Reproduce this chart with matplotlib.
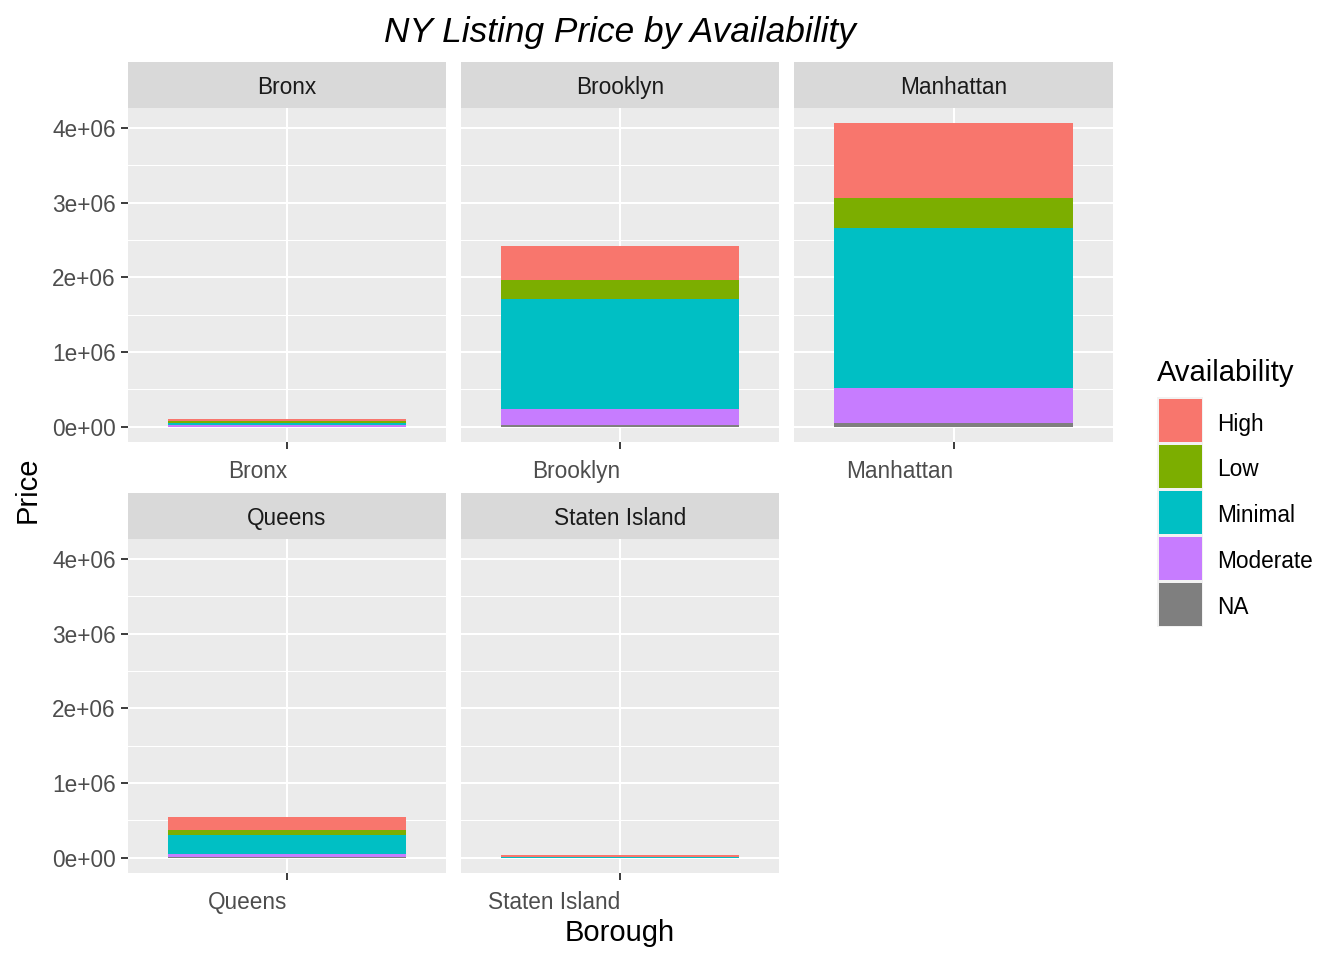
import matplotlib
matplotlib.use("Agg")
import matplotlib.pyplot as plt
from matplotlib.patches import Rectangle

plt.rcParams['font.family'] = ['Liberation Sans', 'DejaVu Sans']

# ---- data ----
boroughs = ["Bronx", "Brooklyn", "Manhattan", "Queens", "Staten Island"]
levels = ["High", "Low", "Minimal", "Moderate", "NA"]
high = [25000, 455000, 1000000, 174000, 27000]
low = [22000, 254000, 400000, 71000, 1000]
minimal = [27000, 1470000, 2140000, 250000, 13000]
moderate = [22000, 214000, 468000, 40000, 2000]
na_vals = [2000, 27000, 53000, 13000, 500]
y_breaks = [0, 1e6, 2e6, 3e6, 4e6]
y_labels = ["0e+00", "1e+06", "2e+06", "3e+06", "4e+06"]
minor_breaks = [0.5e6, 1.5e6, 2.5e6, 3.5e6]

colors = {"High": "#F8766D", "Low": "#7CAE00", "Minimal": "#00BFC4",
          "Moderate": "#C77CFF", "NA": "#7F7F7F"}
series = {"High": high, "Low": low, "Minimal": minimal,
          "Moderate": moderate, "NA": na_vals}
stack_order = ["NA", "Moderate", "Minimal", "Low", "High"]

W, H = 1344, 960
fig = plt.figure(figsize=(W / 96, H / 96), dpi=96)


def px(x0, y0, x1, y1):
    return [x0 / W, 1 - y1 / H, (x1 - x0) / W, (y1 - y0) / H]


cols = [(128, 446), (461, 779), (794, 1113)]
rows = [((62, 108), (108, 442)), ((493, 539), (539, 873))]

totals = [sum(series[l][i] for l in levels) for i in range(len(boroughs))]
ymax = max(totals)
pad = 0.05 * ymax
ylim = (-pad, ymax + pad)

TICK_FS = 17
TITLE_FS = 21.8
for i, b in enumerate(boroughs):
    r, c = divmod(i, 3)
    (sy0, sy1), (py0, py1) = rows[r]
    cx0, cx1 = cols[c]
    # strip
    sax = fig.add_axes(px(cx0, sy0, cx1, sy1))
    sax.set_facecolor("#D9D9D9")
    sax.set_xticks([]); sax.set_yticks([])
    for s in sax.spines.values():
        s.set_visible(False)
    sax.text(0.5, 0.5, b, ha="center", va="center_baseline", fontsize=TICK_FS,
             color="#1A1A1A", transform=sax.transAxes)
    # panel
    ax = fig.add_axes(px(cx0, py0, cx1, py1))
    ax.set_facecolor("#EBEBEB")
    for s in ax.spines.values():
        s.set_visible(False)
    ax.set_xlim(0.4, 1.6)
    ax.set_ylim(*ylim)
    for yb in minor_breaks:
        ax.axhline(yb, color="white", lw=0.75, zorder=0)
    for yb in y_breaks:
        ax.axhline(yb, color="white", lw=1.5, zorder=0)
    ax.axvline(1, color="white", lw=1.5, zorder=0)
    bottom = 0
    for lv in stack_order:
        v = series[lv][i]
        ax.bar([1], [v], width=0.9, bottom=bottom, color=colors[lv],
               linewidth=0, zorder=2)
        bottom += v
    ax.set_xticks([1])
    ax.set_xticklabels([b], ha="right")
    ax.tick_params(axis="x", length=5.2, width=1.4, color="#333333",
                   labelsize=TICK_FS, labelcolor="#4D4D4D", pad=8)
    ax.set_yticks(y_breaks)
    if c == 0:
        ax.set_yticklabels(y_labels)
        ax.tick_params(axis="y", length=5.2, width=1.4, color="#333333",
                       labelsize=TICK_FS, labelcolor="#4D4D4D", pad=4)
    else:
        ax.tick_params(axis="y", length=0, labelleft=False)

# titles
fig.text(620 / W, 1 - 29 / H, "NY Listing Price by Availability",
         ha="center", va="center_baseline", fontsize=26.4, style="italic",
         color="black")
fig.text(620 / W, 1 - 930 / H, "Borough", ha="center", va="center_baseline",
         fontsize=TITLE_FS, color="black")
fig.text(28 / W, 1 - 490 / H, "Price", ha="center", va="center",
         fontsize=TITLE_FS, rotation=90, color="black")

# legend
lax = fig.add_axes([0, 0, 1, 1])
lax.set_xlim(0, W)
lax.set_ylim(H, 0)
lax.axis("off")
lax.patch.set_alpha(0)
lax.text(1157, 370, "Availability", ha="left", va="center_baseline",
         fontsize=TITLE_FS, color="black")
key_top = 397
key_step = 46
for k, lv in enumerate(levels):
    y0 = key_top + k * key_step
    lax.add_patch(Rectangle((1157, y0), 46, 46, facecolor="#F2F2F2",
                            edgecolor="none"))
    lax.add_patch(Rectangle((1158.5, y0 + 1.5), 43, 43,
                            facecolor=colors[lv], edgecolor="none"))
    lax.text(1217, y0 + 24.5, lv, ha="left", va="center_baseline",
             fontsize=TICK_FS, color="black")

fig.savefig("out.png", dpi=96, facecolor="white")
